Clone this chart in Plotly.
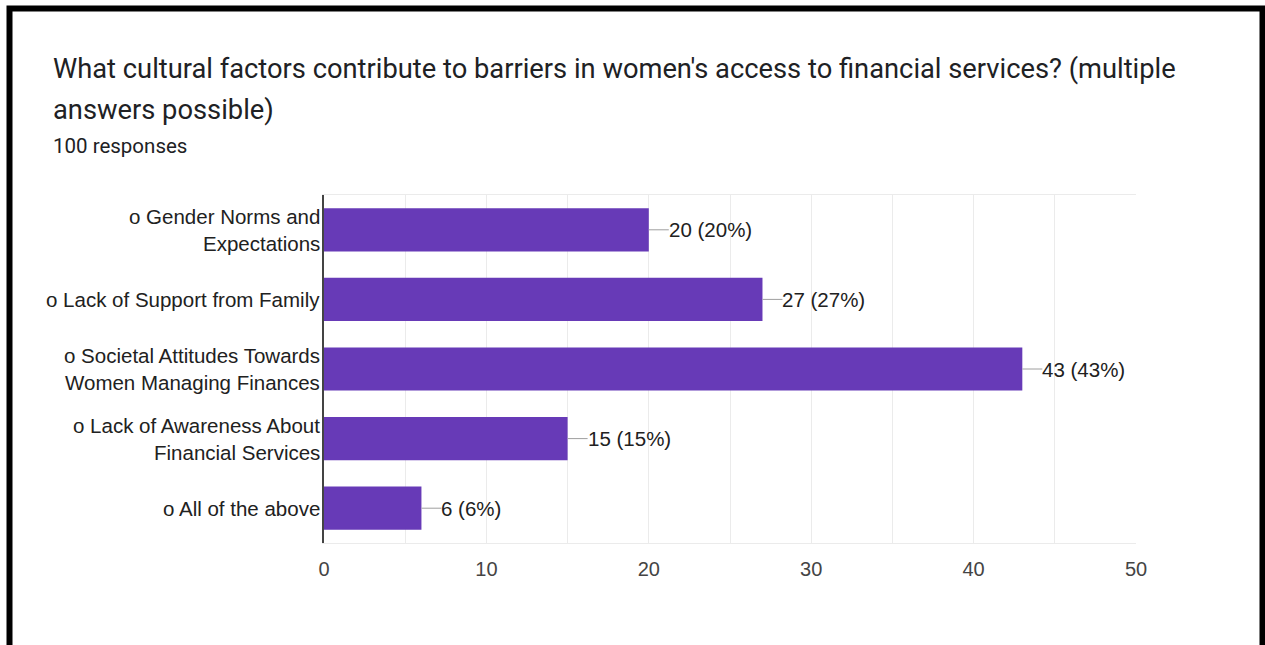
import plotly.graph_objects as go

# Survey results
categories = [
    "o Gender Norms and<br>Expectations",
    "o Lack of Support from Family",
    "o Societal Attitudes Towards<br>Women Managing Finances",
    "o Lack of Awareness About<br>Financial Services",
    "o All of the above",
]
counts = [20, 27, 43, 15, 6]
total_responses = 100
x_ticks = [0, 10, 20, 30, 40, 50]

title_lines = [
    "What cultural factors contribute to barriers in women's access to financial services? (multiple",
    "answers possible)",
]
subtitle = f"{total_responses} responses"

# Canvas and plot-area geometry (pixels)
W, H = 1265, 645
L, R, T, B = 324, 129, 195, 102
PW, PH = W - L - R, H - T - B
X_MAX = 50

BAR_COLOR = "#673ab7"
TEXT_COLOR = "#212121"
LABEL_FONT = "Liberation Sans, Arial"


def px_x(p):
    return (p - L) / PW


def px_y(p):
    return (H - B - p) / PH


ypos = list(range(len(categories)))

fig = go.Figure(
    go.Bar(
        x=counts,
        y=ypos,
        orientation="h",
        width=0.62,
        marker=dict(color=BAR_COLOR, line=dict(width=0)),
        hoverinfo="skip",
    )
)

annotations = []
shapes = []

# value labels with short leader lines
units_per_px = X_MAX / PW
for yi, v in zip(ypos, counts):
    pct = round(v / total_responses * 100)
    shapes.append(dict(
        type="line", xref="x", yref="y",
        x0=v, x1=v + 20 * units_per_px, y0=yi, y1=yi,
        line=dict(color="#9e9e9e", width=1),
    ))
    annotations.append(dict(
        x=v, y=yi, xref="x", yref="y",
        text=f"{v} ({pct}%)", showarrow=False,
        xanchor="left", yanchor="middle", xshift=18,
        font=dict(family=LABEL_FONT, size=20.5, color=TEXT_COLOR),
    ))

# category labels, one text line at a time
LINE_GAP = 27
for yi, cat in zip(ypos, categories):
    lines = cat.split("<br>")
    n = len(lines)
    for k, line in enumerate(lines):
        annotations.append(dict(
            x=0, y=yi, xref="paper", yref="y",
            text=line, showarrow=False,
            xanchor="right", yanchor="middle", xshift=-2,
            yshift=((n - 1) / 2 - k) * LINE_GAP,
            font=dict(family=LABEL_FONT, size=20.5, color=TEXT_COLOR),
        ))

# title block
for k, line in enumerate(title_lines):
    annotations.append(dict(
        x=px_x(51), y=px_y(69 + 41 * k), xref="paper", yref="paper",
        text=line, showarrow=False, xanchor="left", yanchor="middle",
        font=dict(family="Roboto", size=27.3, color="#202124"),
    ))
annotations.append(dict(
    x=px_x(51), y=px_y(146), xref="paper", yref="paper",
    text=subtitle, showarrow=False, xanchor="left", yanchor="middle",
    font=dict(family="Roboto", size=20.5, color="#202124"),
))

# black frame around the card
shapes.append(dict(
    type="rect", xref="paper", yref="paper", layer="above",
    x0=px_x(9.5), x1=px_x(1262.5), y0=px_y(700), y1=px_y(8.5),
    line=dict(color="#000000", width=6), fillcolor="rgba(0,0,0,0)",
))

fig.update_layout(
    width=W, height=H,
    margin=dict(l=L, r=R, t=T, b=B, pad=0),
    paper_bgcolor="white", plot_bgcolor="white",
    showlegend=False,
    annotations=annotations,
    shapes=shapes,
    xaxis=dict(
        range=[0, X_MAX],
        tickvals=x_ticks,
        ticktext=[str(t) for t in x_ticks],
        showgrid=True, gridcolor="#ebebeb", gridwidth=1,
        minor=dict(dtick=5, showgrid=True, gridcolor="#ebebeb", gridwidth=1),
        showline=True, linecolor="#ebebeb", linewidth=1, mirror=True,
        zeroline=False,
        ticks="outside", ticklen=8, tickcolor="rgba(0,0,0,0)",
        tickfont=dict(family=LABEL_FONT, size=20, color="#444444"),
        fixedrange=True,
    ),
    yaxis=dict(
        range=[len(categories) - 0.5, -0.5],
        showticklabels=False, showgrid=False, zeroline=False,
        showline=True, linecolor="#444444", linewidth=2,
        fixedrange=True,
    ),
)

fig.write_html("out.html", config={"displayModeBar": False})
